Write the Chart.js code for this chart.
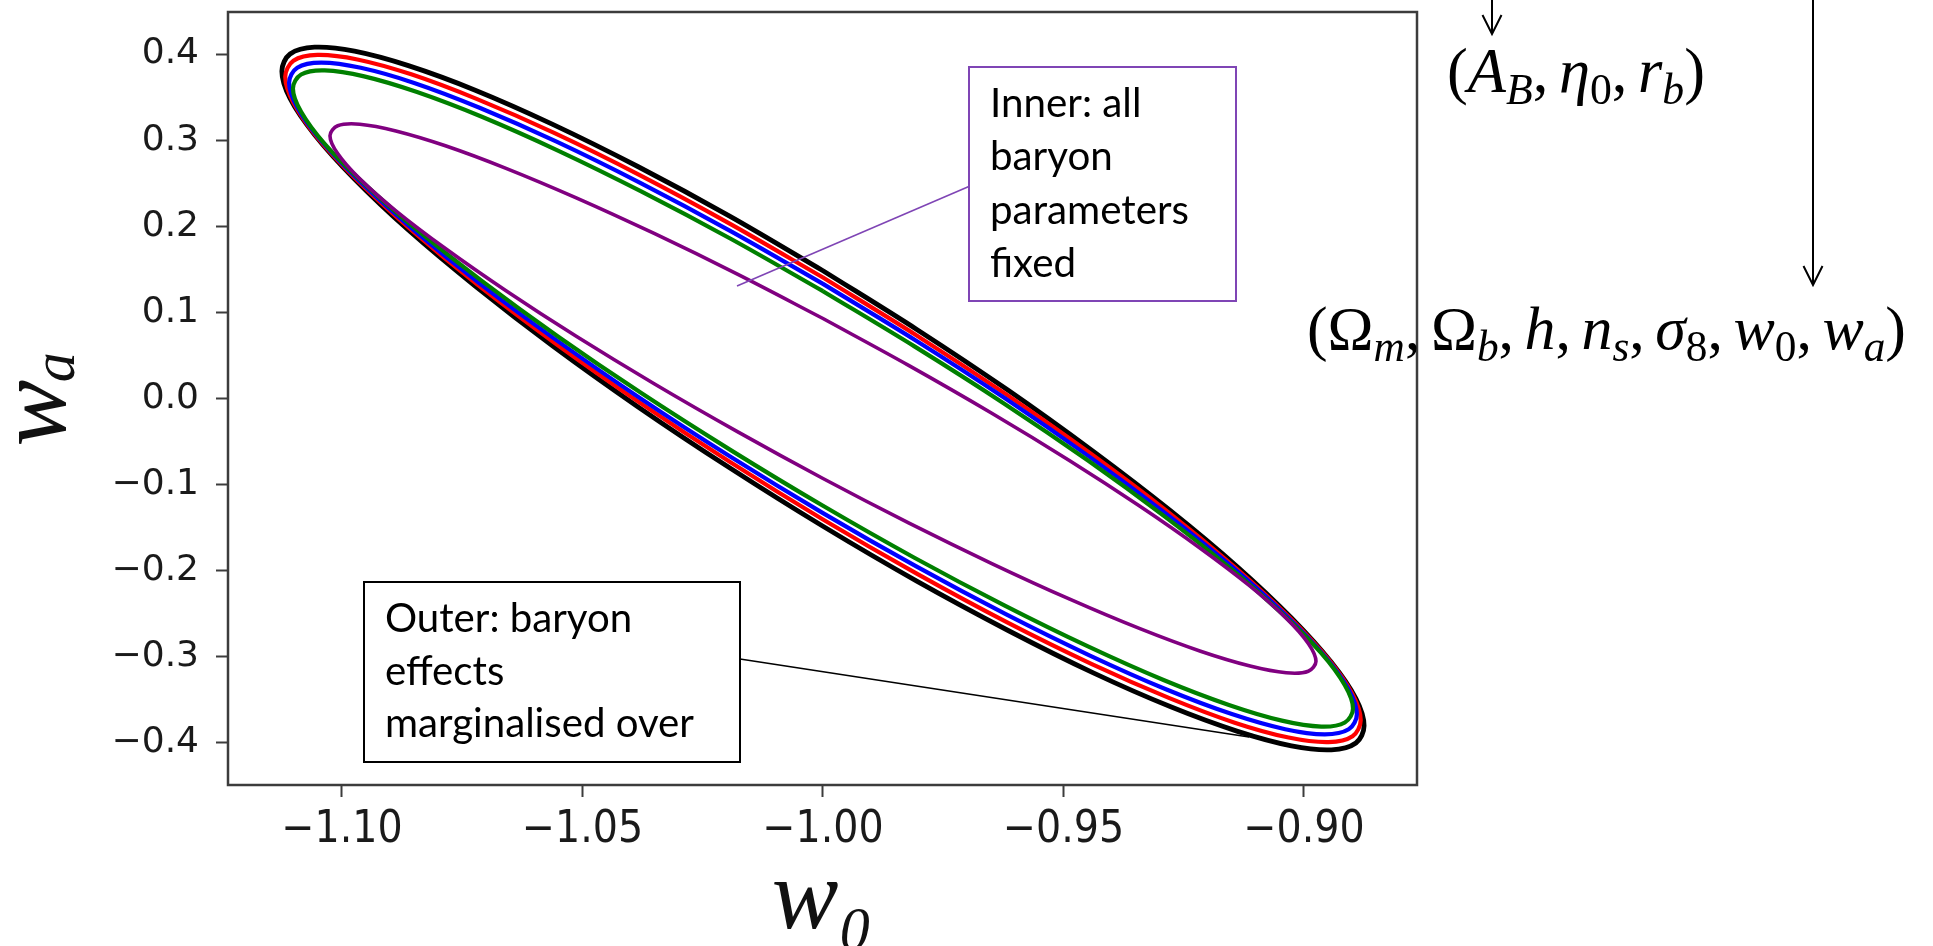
<!DOCTYPE html>
<html><head><meta charset="utf-8">
<script src="https://cdn.jsdelivr.net/npm/chart.js@4.4.1/dist/chart.umd.min.js"></script>
<style>html,body{margin:0;padding:0;background:#fff;overflow:hidden}#wrap{position:relative;width:1933px;height:946px}</style>
</head><body><div id="wrap"><canvas id="c"></canvas></div>
<script>
// ---- data ----
const xTicks = [-1.10, -1.05, -1.00, -0.95, -0.90];
const xTickLabels = ['\u22121.10', '\u22121.05', '\u22121.00', '\u22120.95', '\u22120.90'];
const yTicks = [-0.4, -0.3, -0.2, -0.1, 0.0, 0.1, 0.2, 0.3, 0.4];
const yTickLabels = ['\u22120.4', '\u22120.3', '\u22120.2', '\u22120.1', '0.0', '0.1', '0.2', '0.3', '0.4'];

const w0Black = [-1.0, -1.0195, -1.0385, -1.0563, -1.0723, -1.0862, -1.0974, -1.1057, -1.1108, -1.1125, -1.1108, -1.1057, -1.0974, -1.0862, -1.0723, -1.0563, -1.0385, -1.0195, -1.0, -0.9805, -0.9615, -0.9438, -0.9277, -0.9138, -0.9026, -0.8943, -0.8892, -0.8875, -0.8892, -0.8943, -0.9026, -0.9138, -0.9277, -0.9438, -0.9615, -0.9805];
const waBlack = [0.1484, 0.2121, 0.2694, 0.3186, 0.3580, 0.3865, 0.4033, 0.4079, 0.4000, 0.3801, 0.3485, 0.3064, 0.2549, 0.1957, 0.1306, 0.0615, -0.0095, -0.0802, -0.1484, -0.2121, -0.2694, -0.3186, -0.3580, -0.3865, -0.4033, -0.4079, -0.4000, -0.3801, -0.3485, -0.3064, -0.2549, -0.1957, -0.1306, -0.0615, 0.0095, 0.0802];

const w0Red = [-1.0, -1.0194, -1.0382, -1.0559, -1.0719, -1.0856, -1.0968, -1.1051, -1.1101, -1.1118, -1.1101, -1.1051, -1.0968, -1.0856, -1.0719, -1.0559, -1.0382, -1.0194, -1.0, -0.9806, -0.9618, -0.9441, -0.9281, -0.9144, -0.9032, -0.8949, -0.8899, -0.8882, -0.8899, -0.8949, -0.9032, -0.9144, -0.9281, -0.9441, -0.9618, -0.9806];
const waRed = [0.1405, 0.2031, 0.2597, 0.3084, 0.3476, 0.3764, 0.3937, 0.3990, 0.3922, 0.3735, 0.3434, 0.3029, 0.2532, 0.1958, 0.1325, 0.0651, -0.0043, -0.0735, -0.1405, -0.2031, -0.2597, -0.3084, -0.3476, -0.3764, -0.3937, -0.3990, -0.3922, -0.3735, -0.3434, -0.3029, -0.2532, -0.1958, -0.1325, -0.0651, 0.0043, 0.0735];

const w0Blue = [-1.0, -1.0193, -1.0380, -1.0555, -1.0714, -1.0850, -1.0961, -1.1043, -1.1093, -1.1110, -1.1093, -1.1043, -1.0961, -1.0850, -1.0714, -1.0555, -1.0380, -1.0193, -1.0, -0.9807, -0.9620, -0.9445, -0.9287, -0.9150, -0.9039, -0.8957, -0.8907, -0.8890, -0.8907, -0.8957, -0.9039, -0.9150, -0.9287, -0.9445, -0.9620, -0.9807];
const waBlue = [0.1331, 0.1947, 0.2504, 0.2985, 0.3376, 0.3664, 0.3840, 0.3900, 0.3841, 0.3666, 0.3379, 0.2990, 0.2510, 0.1953, 0.1337, 0.0681, 0.0003, -0.0674, -0.1331, -0.1947, -0.2504, -0.2985, -0.3376, -0.3664, -0.3840, -0.3900, -0.3841, -0.3666, -0.3379, -0.2990, -0.2510, -0.1953, -0.1337, -0.0681, -0.0003, 0.0674];

const w0Green = [-1.0, -1.0191, -1.0377, -1.0551, -1.0708, -1.0844, -1.0954, -1.1036, -1.1085, -1.1102, -1.1085, -1.1036, -1.0954, -1.0844, -1.0708, -1.0551, -1.0377, -1.0191, -1.0, -0.9809, -0.9623, -0.9449, -0.9292, -0.9156, -0.9046, -0.8964, -0.8915, -0.8898, -0.8915, -0.8964, -0.9046, -0.9156, -0.9292, -0.9449, -0.9623, -0.9809];
const waGreen = [0.1246, 0.1852, 0.2402, 0.2879, 0.3269, 0.3559, 0.3741, 0.3810, 0.3762, 0.3601, 0.3330, 0.2957, 0.2495, 0.1957, 0.1360, 0.0721, 0.0060, -0.0602, -0.1246, -0.1852, -0.2402, -0.2879, -0.3269, -0.3559, -0.3741, -0.3810, -0.3762, -0.3601, -0.3330, -0.2957, -0.2495, -0.1957, -0.1360, -0.0721, -0.0060, 0.0602];

const w0Purple = [-1.0, -1.0178, -1.0351, -1.0513, -1.0659, -1.0785, -1.0888, -1.0963, -1.1009, -1.1025, -1.1009, -1.0963, -1.0888, -1.0785, -1.0659, -1.0513, -1.0351, -1.0178, -1.0, -0.9822, -0.9649, -0.9487, -0.9341, -0.9215, -0.9112, -0.9037, -0.8991, -0.8975, -0.8991, -0.9037, -0.9112, -0.9215, -0.9341, -0.9487, -0.9649, -0.9822];
const waPurple = [0.0929, 0.1444, 0.1916, 0.2330, 0.2673, 0.2935, 0.3107, 0.3185, 0.3167, 0.3052, 0.2844, 0.2550, 0.2179, 0.1741, 0.1251, 0.0722, 0.0171, -0.0385, -0.0929, -0.1444, -0.1916, -0.2330, -0.2673, -0.2935, -0.3107, -0.3185, -0.3167, -0.3052, -0.2844, -0.2550, -0.2179, -0.1741, -0.1251, -0.0722, -0.0171, 0.0385];

const innerLines = ['Inner: all', 'baryon', 'parameters', 'fixed'];
const outerLines = ['Outer: baryon', 'effects', 'marginalised over'];

// ---- build closed contours ----
function contour(xs, ys) {
  const pts = xs.map((x, i) => ({x: x, y: ys[i]}));
  pts.push({x: xs[0], y: ys[0]});
  return pts;
}
function ds(xs, ys, color, width, order) {
  return {data: contour(xs, ys), borderColor: color, backgroundColor: color, borderWidth: width,
    showLine: true, tension: 0.34, pointRadius: 0, pointHoverRadius: 0, fill: false, order: order};
}
const datasets = [
  ds(w0Black, waBlack, '#000000', 4.8, 5),
  ds(w0Red, waRed, '#ff0000', 4.2, 4),
  ds(w0Blue, waBlue, '#0000ff', 4.2, 3),
  ds(w0Green, waGreen, '#008000', 4.2, 2),
  ds(w0Purple, waPurple, '#800080', 3.6, 1)
];

const SERIF = "'Liberation Serif', 'DejaVu Serif', serif";
const BOXFONT = "Lato, 'Open Sans', 'Noto Sans', sans-serif";

function layoutMath(ctx, parts, size) {
  let w = 0; const items = [];
  for (const [t, k] of parts) {
    if (k === 'sp') { w += t * size; continue; }
    const sub = k[0] === 's';
    const sz = sub ? size * 0.7 : size;
    const font = (k[k.length - 1] === 'i' ? 'italic ' : '') + sz.toFixed(2) + 'px ' + SERIF;
    ctx.font = font;
    const tw = ctx.measureText(t).width;
    items.push({t: t, font: font, dx: w, dy: sub ? size * 0.2 : 0});
    w += tw;
  }
  return {items: items, w: w};
}
function drawMath(ctx, parts, x, baseline, targetW) {
  let L = layoutMath(ctx, parts, 50);
  const size = 50 * targetW / L.w;
  L = layoutMath(ctx, parts, size);
  ctx.fillStyle = '#000';
  ctx.textBaseline = 'alphabetic';
  ctx.textAlign = 'left';
  for (const it of L.items) { ctx.font = it.font; ctx.fillText(it.t, x + it.dx, baseline + it.dy); }
}
function drawBox(ctx, r, color, lines, tx, firstBase, step, longestW) {
  ctx.fillStyle = '#fff';
  ctx.fillRect(r[0], r[1], r[2], r[3]);
  ctx.strokeStyle = color; ctx.lineWidth = 2;
  ctx.strokeRect(r[0], r[1], r[2], r[3]);
  let longest = lines.reduce((a, b) => (a.length > b.length ? a : b));
  ctx.font = '40px ' + BOXFONT;
  const size = 40 * longestW / ctx.measureText(longest).width;
  ctx.font = size.toFixed(2) + 'px ' + BOXFONT;
  ctx.fillStyle = '#000'; ctx.textAlign = 'left'; ctx.textBaseline = 'alphabetic';
  lines.forEach((l, i) => ctx.fillText(l, tx, firstBase + i * step));
}
function arrow(ctx, x, y0, y1) {
  ctx.beginPath(); ctx.moveTo(x, y0); ctx.lineTo(x, y1);
  ctx.moveTo(x - 9.5, y1 - 19); ctx.lineTo(x, y1); ctx.lineTo(x + 9.5, y1 - 19);
  ctx.stroke();
}

const overlay = {
  id: 'overlay',
  afterDatasetsDraw(chart) {
    const ctx = chart.ctx, a = chart.chartArea;
    ctx.save();
    ctx.strokeStyle = '#3c3c3c'; ctx.lineWidth = 2.5;
    ctx.strokeRect(a.left, a.top, a.right - a.left, a.bottom - a.top);
    // connectors
    ctx.lineWidth = 1.6;
    ctx.strokeStyle = '#7f45b5';
    ctx.beginPath(); ctx.moveTo(970, 186); ctx.lineTo(737, 286); ctx.stroke();
    ctx.strokeStyle = '#000';
    ctx.beginPath(); ctx.moveTo(740, 659); ctx.lineTo(1249, 737); ctx.stroke();
    drawBox(ctx, [969, 67, 267, 234], '#7f45b5', innerLines, 990, 117, 53.3, 199);
    drawBox(ctx, [364, 582, 376, 180], '#000', outerLines, 385, 632, 52.5, 309);
    ctx.restore();
  },
  afterDraw(chart) {
    const ctx = chart.ctx;
    ctx.save();
    ctx.strokeStyle = '#000'; ctx.lineWidth = 2;
    arrow(ctx, 1492, -2, 34);
    arrow(ctx, 1813, -2, 285);
    const sp = 0.17;
    drawMath(ctx, [['(', 'r'], ['A', 'i'], ['B', 'si'], [',', 'r'], [sp, 'sp'], ['\u03b7', 'i'], ['0', 'sr'], [',', 'r'], [sp, 'sp'], ['r', 'i'], ['b', 'si'], [')', 'r']], 1447, 92, 258);
    drawMath(ctx, [['(', 'r'], ['\u03a9', 'r'], ['m', 'si'], [',', 'r'], [sp, 'sp'], ['\u03a9', 'r'], ['b', 'si'], [',', 'r'], [sp, 'sp'], ['h', 'i'], [',', 'r'], [sp, 'sp'], ['n', 'i'], ['s', 'si'], [',', 'r'], [sp, 'sp'], ['\u03c3', 'i'], ['8', 'sr'], [',', 'r'], [sp, 'sp'], ['w', 'i'], ['0', 'sr'], [',', 'r'], [sp, 'sp'], ['w', 'i'], ['a', 'si'], [')', 'r']], 1307, 349, 599);
    ctx.restore();
  }
};

new Chart(document.getElementById('c'), {
  type: 'scatter',
  data: {datasets: datasets},
  plugins: [overlay],
  options: {
    responsive: true, maintainAspectRatio: false, animation: false,
    events: [],
    layout: {padding: {left: 0, top: 12, right: 516, bottom: 0}},
    plugins: {legend: {display: false}, tooltip: {enabled: false}},
    scales: {
      x: {
        type: 'linear', min: -1.1237, max: -0.8765,
        afterBuildTicks: s => { s.ticks = xTicks.map(v => ({value: v})); },
        afterFit: s => { s.height = 161; s.paddingLeft = 0; s.paddingRight = 0; },
        grid: {display: true, drawOnChartArea: false, drawTicks: true, tickLength: 12, tickWidth: 2, tickColor: '#3c3c3c', color: '#3c3c3c'},
        border: {display: false},
        ticks: {color: '#1a1a1a', padding: 7, maxRotation: 0, autoSkip: false,
          font: {family: "'DejaVu Sans Condensed', 'Liberation Sans Narrow', 'DejaVu Sans', sans-serif", size: 44},
          callback: (v, i) => xTickLabels[i]},
        title: {display: true, text: 'w\u2080', color: '#111', padding: 0,
          font: {family: SERIF, style: 'italic', size: 100, lineHeight: 0.88}}
      },
      y: {
        type: 'linear', min: -0.4488, max: 0.4488,
        afterBuildTicks: s => { s.ticks = yTicks.map(v => ({value: v})); },
        afterFit: s => { s.width = 228; s.paddingTop = 0; s.paddingBottom = 0; },
        grid: {display: true, drawOnChartArea: false, drawTicks: true, tickLength: 12, tickWidth: 2, tickColor: '#3c3c3c', color: '#3c3c3c'},
        border: {display: false},
        ticks: {color: '#1a1a1a', padding: 17, autoSkip: false,
          font: {family: "'DejaVu Sans', sans-serif", size: 36},
          callback: (v, i) => yTickLabels[i]},
        title: {display: true, text: 'w\u2090', color: '#111', padding: 0,
          font: {family: SERIF, style: 'italic', size: 100, lineHeight: 0.78}}
      }
    }
  }
});
</script>
</body></html>
